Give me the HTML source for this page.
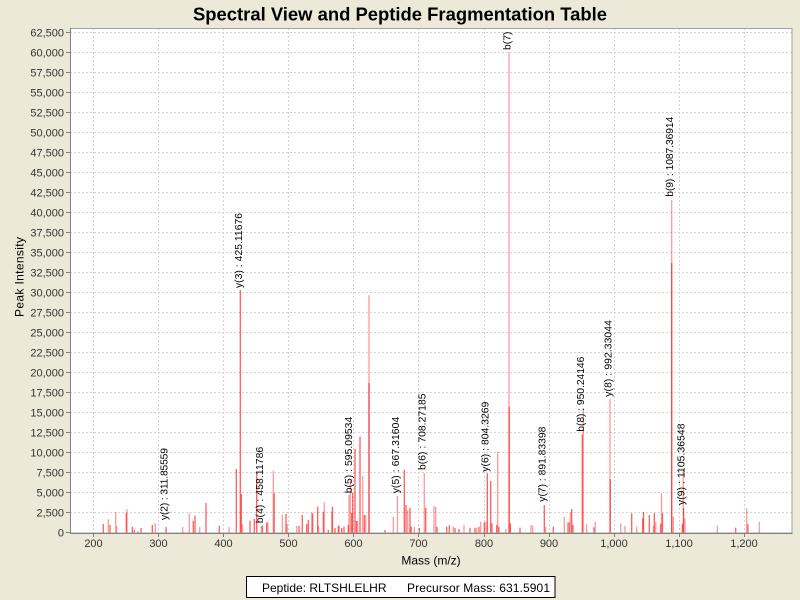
<!DOCTYPE html>
<html><head><meta charset="utf-8"><style>
html,body{margin:0;padding:0;background:#ECE9D8;}
svg{display:block;font-family:"Liberation Sans",Arial,sans-serif;}
.p{stroke:rgba(255,0,0,0.40);stroke-width:1.3;}
.r{stroke:rgba(255,30,30,0.72);stroke-width:1.3;}
.g{stroke:#d2d2d2;stroke-width:1;stroke-dasharray:2,2;}
.yt{font-size:11px;text-anchor:end;fill:#333;}
.xt{font-size:11px;text-anchor:middle;fill:#333;}
.lb{font-size:10.3px;fill:#000;}
</style></head><body>
<svg width="800" height="600" viewBox="0 0 800 600" xmlns="http://www.w3.org/2000/svg">
<rect x="0" y="0" width="800" height="600" fill="#ECE9D8"/>
<text x="400" y="20.5" font-size="18" font-weight="bold" text-anchor="middle" textLength="414" lengthAdjust="spacingAndGlyphs" fill="#000">Spectral View and Peptide Fragmentation Table</text>
<rect x="70" y="28" width="722" height="505" fill="#fff"/>
<defs><clipPath id="cp"><rect x="70" y="28" width="722" height="505"/></clipPath></defs>
<g>
<!-- horizontal grid -->
<line class="g" x1="70" x2="792" y1="32.5" y2="32.5"/>
<line class="g" x1="70" x2="792" y1="52.5" y2="52.5"/>
<line class="g" x1="70" x2="792" y1="72.5" y2="72.5"/>
<line class="g" x1="70" x2="792" y1="92.5" y2="92.5"/>
<line class="g" x1="70" x2="792" y1="112.5" y2="112.5"/>
<line class="g" x1="70" x2="792" y1="132.5" y2="132.5"/>
<line class="g" x1="70" x2="792" y1="152.5" y2="152.5"/>
<line class="g" x1="70" x2="792" y1="172.5" y2="172.5"/>
<line class="g" x1="70" x2="792" y1="192.5" y2="192.5"/>
<line class="g" x1="70" x2="792" y1="212.5" y2="212.5"/>
<line class="g" x1="70" x2="792" y1="232.5" y2="232.5"/>
<line class="g" x1="70" x2="792" y1="252.5" y2="252.5"/>
<line class="g" x1="70" x2="792" y1="272.5" y2="272.5"/>
<line class="g" x1="70" x2="792" y1="292.5" y2="292.5"/>
<line class="g" x1="70" x2="792" y1="312.5" y2="312.5"/>
<line class="g" x1="70" x2="792" y1="332.5" y2="332.5"/>
<line class="g" x1="70" x2="792" y1="352.5" y2="352.5"/>
<line class="g" x1="70" x2="792" y1="372.5" y2="372.5"/>
<line class="g" x1="70" x2="792" y1="392.5" y2="392.5"/>
<line class="g" x1="70" x2="792" y1="412.5" y2="412.5"/>
<line class="g" x1="70" x2="792" y1="432.5" y2="432.5"/>
<line class="g" x1="70" x2="792" y1="452.5" y2="452.5"/>
<line class="g" x1="70" x2="792" y1="472.5" y2="472.5"/>
<line class="g" x1="70" x2="792" y1="492.5" y2="492.5"/>
<line class="g" x1="70" x2="792" y1="512.5" y2="512.5"/>
<!-- vertical grid -->
<line class="g" x1="93.5" x2="93.5" y1="28" y2="533"/>
<line class="g" x1="158.5" x2="158.5" y1="28" y2="533"/>
<line class="g" x1="223.5" x2="223.5" y1="28" y2="533"/>
<line class="g" x1="288.5" x2="288.5" y1="28" y2="533"/>
<line class="g" x1="353.5" x2="353.5" y1="28" y2="533"/>
<line class="g" x1="418.5" x2="418.5" y1="28" y2="533"/>
<line class="g" x1="484.5" x2="484.5" y1="28" y2="533"/>
<line class="g" x1="549.5" x2="549.5" y1="28" y2="533"/>
<line class="g" x1="614.5" x2="614.5" y1="28" y2="533"/>
<line class="g" x1="679.5" x2="679.5" y1="28" y2="533"/>
<line class="g" x1="744.5" x2="744.5" y1="28" y2="533"/>
</g>
<g clip-path="url(#cp)">
<line class="r" x1="103.3" x2="103.3" y1="533" y2="524"/>
<line class="p" x1="108.3" x2="108.3" y1="533" y2="519.3"/>
<line class="r" x1="110" x2="110" y1="533" y2="525"/>
<line class="p" x1="115.7" x2="115.7" y1="533" y2="512"/>
<line class="p" x1="116.7" x2="116.7" y1="533" y2="526"/>
<line class="p" x1="127" x2="127" y1="533" y2="509"/>
<line class="r" x1="126.3" x2="126.3" y1="533" y2="513"/>
<line class="r" x1="132.3" x2="132.3" y1="533" y2="526.7"/>
<line class="r" x1="134.3" x2="134.3" y1="533" y2="530"/>
<line class="p" x1="137.7" x2="137.7" y1="533" y2="531"/>
<line class="r" x1="141" x2="141" y1="533" y2="528"/>
<line class="r" x1="152.3" x2="152.3" y1="533" y2="525"/>
<line class="p" x1="155.3" x2="155.3" y1="533" y2="523.3"/>
<line class="r" x1="166.1" x2="166.1" y1="533" y2="527"/>
<line class="p" x1="182.7" x2="182.7" y1="533" y2="527"/>
<line class="p" x1="189.3" x2="189.3" y1="533" y2="513.3"/>
<line class="r" x1="193.3" x2="193.3" y1="533" y2="520.7"/>
<line class="r" x1="195" x2="195" y1="533" y2="515.7"/>
<line class="p" x1="199.7" x2="199.7" y1="533" y2="527"/>
<line class="r" x1="206" x2="206" y1="533" y2="503"/>
<line class="r" x1="219.3" x2="219.3" y1="533" y2="525.7"/>
<line class="p" x1="229" x2="229" y1="533" y2="526.7"/>
<line class="r" x1="236.3" x2="236.3" y1="533" y2="469"/>
<line class="r" x1="240.3" x2="240.3" y1="533" y2="290"/>
<line class="r" x1="241.3" x2="241.3" y1="533" y2="494"/>
<line class="p" x1="242.5" x2="242.5" y1="533" y2="524.3"/>
<line class="r" x1="250" x2="250" y1="533" y2="520.7"/>
<line class="r" x1="254.3" x2="254.3" y1="533" y2="519"/>
<line class="r" x1="256.7" x2="256.7" y1="533" y2="473.3"/>
<line class="p" x1="261.3" x2="261.3" y1="533" y2="526"/>
<line class="r" x1="262.5" x2="262.5" y1="533" y2="525.7"/>
<line class="r" x1="266.7" x2="266.7" y1="533" y2="522.3"/>
<line class="p" x1="267.9" x2="267.9" y1="533" y2="522.3"/>
<line class="p" x1="273.3" x2="273.3" y1="533" y2="470.7"/>
<line class="r" x1="274.2" x2="274.2" y1="533" y2="493.3"/>
<line class="p" x1="282.3" x2="282.3" y1="533" y2="514.7"/>
<line class="r" x1="286" x2="286" y1="533" y2="514"/>
<line class="p" x1="287.3" x2="287.3" y1="533" y2="524"/>
<line class="p" x1="296.7" x2="296.7" y1="533" y2="526"/>
<line class="r" x1="299" x2="299" y1="533" y2="526"/>
<line class="r" x1="302.3" x2="302.3" y1="533" y2="515"/>
<line class="r" x1="306.7" x2="306.7" y1="533" y2="524"/>
<line class="r" x1="308.3" x2="308.3" y1="533" y2="520"/>
<line class="p" x1="311.7" x2="311.7" y1="533" y2="512.7"/>
<line class="r" x1="312.7" x2="312.7" y1="533" y2="513.3"/>
<line class="r" x1="317.7" x2="317.7" y1="533" y2="506.7"/>
<line class="p" x1="318.5" x2="318.5" y1="533" y2="526"/>
<line class="r" x1="323.3" x2="323.3" y1="533" y2="511.7"/>
<line class="p" x1="324.3" x2="324.3" y1="533" y2="502.3"/>
<line class="r" x1="328.3" x2="328.3" y1="533" y2="530"/>
<line class="p" x1="331.7" x2="331.7" y1="533" y2="511.7"/>
<line class="r" x1="332.5" x2="332.5" y1="533" y2="506.7"/>
<line class="r" x1="335" x2="335" y1="533" y2="528"/>
<line class="r" x1="338.3" x2="338.3" y1="533" y2="526"/>
<line class="p" x1="339.3" x2="339.3" y1="533" y2="525"/>
<line class="r" x1="341.7" x2="341.7" y1="533" y2="528"/>
<line class="r" x1="344" x2="344" y1="533" y2="526.7"/>
<line class="r" x1="348.3" x2="348.3" y1="533" y2="525"/>
<line class="p" x1="349" x2="349" y1="533" y2="495"/>
<line class="p" x1="350.3" x2="350.3" y1="533" y2="480"/>
<line class="r" x1="351.7" x2="351.7" y1="533" y2="513"/>
<line class="r" x1="352.7" x2="352.7" y1="533" y2="492.7"/>
<line class="r" x1="355" x2="355" y1="533" y2="449"/>
<line class="r" x1="356.5" x2="356.5" y1="533" y2="521"/>
<line class="p" x1="357.7" x2="357.7" y1="533" y2="521"/>
<line class="r" x1="360" x2="360" y1="533" y2="436.7"/>
<line class="p" x1="362.7" x2="362.7" y1="533" y2="475.7"/>
<line class="r" x1="364.3" x2="364.3" y1="533" y2="515"/>
<line class="p" x1="365.7" x2="365.7" y1="533" y2="515"/>
<line class="p" x1="369" x2="369" y1="533" y2="295"/>
<line class="r" x1="369" x2="369" y1="533" y2="383"/>
<line class="r" x1="385" x2="385" y1="533" y2="530"/>
<line class="p" x1="393.3" x2="393.3" y1="533" y2="516.7"/>
<line class="p" x1="397.5" x2="397.5" y1="533" y2="496"/>
<line class="r" x1="404.3" x2="404.3" y1="533" y2="470"/>
<line class="r" x1="406" x2="406" y1="533" y2="505"/>
<line class="p" x1="407.7" x2="407.7" y1="533" y2="510"/>
<line class="r" x1="410" x2="410" y1="533" y2="507.7"/>
<line class="r" x1="411.2" x2="411.2" y1="533" y2="526.7"/>
<line class="p" x1="414.3" x2="414.3" y1="533" y2="526.7"/>
<line class="r" x1="419.3" x2="419.3" y1="533" y2="528"/>
<line class="p" x1="424.3" x2="424.3" y1="533" y2="473.3"/>
<line class="r" x1="425.7" x2="425.7" y1="533" y2="507.7"/>
<line class="p" x1="434" x2="434" y1="533" y2="506"/>
<line class="p" x1="435.7" x2="435.7" y1="533" y2="506.7"/>
<line class="r" x1="437" x2="437" y1="533" y2="526.7"/>
<line class="r" x1="446.7" x2="446.7" y1="533" y2="526.7"/>
<line class="r" x1="449.3" x2="449.3" y1="533" y2="525.3"/>
<line class="p" x1="453.3" x2="453.3" y1="533" y2="526"/>
<line class="r" x1="455" x2="455" y1="533" y2="528"/>
<line class="r" x1="459" x2="459" y1="533" y2="529"/>
<line class="p" x1="464" x2="464" y1="533" y2="525"/>
<line class="r" x1="470" x2="470" y1="533" y2="527.7"/>
<line class="r" x1="475" x2="475" y1="533" y2="527.7"/>
<line class="p" x1="476.7" x2="476.7" y1="533" y2="527.7"/>
<line class="r" x1="479" x2="479" y1="533" y2="526.7"/>
<line class="p" x1="480.7" x2="480.7" y1="533" y2="521.7"/>
<line class="r" x1="484.3" x2="484.3" y1="533" y2="522.3"/>
<line class="p" x1="486" x2="486" y1="533" y2="521.7"/>
<line class="r" x1="487.3" x2="487.3" y1="533" y2="473.3"/>
<line class="r" x1="490.7" x2="490.7" y1="533" y2="481"/>
<line class="r" x1="491.9" x2="491.9" y1="533" y2="523.3"/>
<line class="r" x1="496.7" x2="496.7" y1="533" y2="525"/>
<line class="p" x1="497.7" x2="497.7" y1="533" y2="451.7"/>
<line class="r" x1="498.9" x2="498.9" y1="533" y2="526.7"/>
<line class="p" x1="505.7" x2="505.7" y1="533" y2="529"/>
<line class="p" x1="509" x2="509" y1="533" y2="52.3"/>
<line class="r" x1="509.2" x2="509.2" y1="533" y2="406.7"/>
<line class="r" x1="510.4" x2="510.4" y1="533" y2="523.3"/>
<line class="r" x1="520" x2="520" y1="533" y2="527.7"/>
<line class="p" x1="531" x2="531" y1="533" y2="525"/>
<line class="p" x1="532.7" x2="532.7" y1="533" y2="525.7"/>
<line class="r" x1="544.3" x2="544.3" y1="533" y2="505"/>
<line class="p" x1="545.7" x2="545.7" y1="533" y2="526.7"/>
<line class="r" x1="553.3" x2="553.3" y1="533" y2="526.7"/>
<line class="p" x1="564.3" x2="564.3" y1="533" y2="516.7"/>
<line class="p" x1="567.7" x2="567.7" y1="533" y2="522.3"/>
<line class="r" x1="569.1" x2="569.1" y1="533" y2="522.3"/>
<line class="p" x1="570.3" x2="570.3" y1="533" y2="512.3"/>
<line class="r" x1="571.7" x2="571.7" y1="533" y2="509"/>
<line class="r" x1="572.9" x2="572.9" y1="533" y2="525"/>
<line class="r" x1="582.3" x2="582.3" y1="533" y2="434.3"/>
<line class="p" x1="583.3" x2="583.3" y1="533" y2="408.3"/>
<line class="p" x1="586.7" x2="586.7" y1="533" y2="524"/>
<line class="r" x1="594" x2="594" y1="533" y2="527.3"/>
<line class="p" x1="595.2" x2="595.2" y1="533" y2="521.7"/>
<line class="p" x1="610" x2="610" y1="533" y2="399"/>
<line class="r" x1="610.2" x2="610.2" y1="533" y2="479.3"/>
<line class="p" x1="620.7" x2="620.7" y1="533" y2="523.3"/>
<line class="p" x1="625" x2="625" y1="533" y2="525.7"/>
<line class="r" x1="631.7" x2="631.7" y1="533" y2="513.3"/>
<line class="p" x1="636.7" x2="636.7" y1="533" y2="526.7"/>
<line class="r" x1="642.7" x2="642.7" y1="533" y2="518.3"/>
<line class="r" x1="643.5" x2="643.5" y1="533" y2="512"/>
<line class="r" x1="649.3" x2="649.3" y1="533" y2="515"/>
<line class="p" x1="653.3" x2="653.3" y1="533" y2="525.7"/>
<line class="r" x1="654.3" x2="654.3" y1="533" y2="513.3"/>
<line class="p" x1="655.7" x2="655.7" y1="533" y2="521.7"/>
<line class="r" x1="660.7" x2="660.7" y1="533" y2="524"/>
<line class="p" x1="661.5" x2="661.5" y1="533" y2="493.3"/>
<line class="r" x1="662.5" x2="662.5" y1="533" y2="513.3"/>
<line class="p" x1="671.7" x2="671.7" y1="533" y2="200"/>
<line class="r" x1="671.7" x2="671.7" y1="533" y2="263"/>
<line class="p" x1="673.3" x2="673.3" y1="533" y2="516.7"/>
<line class="r" x1="682.3" x2="682.3" y1="533" y2="524"/>
<line class="p" x1="683.3" x2="683.3" y1="533" y2="470"/>
<line class="r" x1="683.6" x2="683.6" y1="533" y2="508"/>
<line class="p" x1="685" x2="685" y1="533" y2="518.3"/>
<line class="p" x1="717.3" x2="717.3" y1="533" y2="525.7"/>
<line class="r" x1="735.7" x2="735.7" y1="533" y2="527.7"/>
<line class="p" x1="746.7" x2="746.7" y1="533" y2="508.3"/>
<line class="r" x1="747.9" x2="747.9" y1="533" y2="524.3"/>
<line class="p" x1="759.3" x2="759.3" y1="533" y2="521.7"/>
<!-- labels -->
<text class="lb" transform="translate(167.6,520) rotate(-90)" textLength="72">y(2) : 311.85559</text>
<text class="lb" transform="translate(241.8,288) rotate(-90)" textLength="75">y(3) : 425.11676</text>
<text class="lb" transform="translate(262.8,523.3) rotate(-90)" textLength="76.5">b(4) : 458.11786</text>
<text class="lb" transform="translate(352,493.3) rotate(-90)" textLength="76.5">b(5) : 595.09534</text>
<text class="lb" transform="translate(399,493.3) rotate(-90)" textLength="76.5">y(5) : 667.31604</text>
<text class="lb" transform="translate(425.7,470) rotate(-90)" textLength="76.5">b(6) : 708.27185</text>
<text class="lb" transform="translate(488.5,471.7) rotate(-90)" textLength="70">y(6) : 804.3269</text>
<text class="lb" transform="translate(510.5,50) rotate(-90)" textLength="76.5">b(7) : 836.44931</text>
<text class="lb" transform="translate(545.5,501.7) rotate(-90)" textLength="75">y(7) : 891.83398</text>
<text class="lb" transform="translate(584,431.7) rotate(-90)" textLength="75">b(8) : 950.24146</text>
<text class="lb" transform="translate(611.5,396.7) rotate(-90)" textLength="76.5">y(8) : 992.33044</text>
<text class="lb" transform="translate(673.2,196.7) rotate(-90)" textLength="80">b(9) : 1087.36914</text>
<text class="lb" transform="translate(684.5,505) rotate(-90)" textLength="81.5">y(9) : 1105.36548</text>
</g>
<!-- plot border & axes -->
<rect x="70.5" y="28.5" width="721.5" height="504.5" fill="none" stroke="#a0a0a0" stroke-width="1"/>
<line x1="70.5" x2="70.5" y1="28" y2="533.5" stroke="#808080" stroke-width="1"/>
<line x1="70" x2="792.5" y1="533.5" y2="533.5" stroke="#808080" stroke-width="1"/>
<!-- y ticks -->
<g stroke="#808080" stroke-width="1">
<line x1="66" x2="70" y1="32.5" y2="32.5"/><line x1="66" x2="70" y1="52.5" y2="52.5"/><line x1="66" x2="70" y1="72.5" y2="72.5"/><line x1="66" x2="70" y1="92.5" y2="92.5"/><line x1="66" x2="70" y1="112.5" y2="112.5"/><line x1="66" x2="70" y1="132.5" y2="132.5"/><line x1="66" x2="70" y1="152.5" y2="152.5"/><line x1="66" x2="70" y1="172.5" y2="172.5"/><line x1="66" x2="70" y1="192.5" y2="192.5"/><line x1="66" x2="70" y1="212.5" y2="212.5"/><line x1="66" x2="70" y1="232.5" y2="232.5"/><line x1="66" x2="70" y1="252.5" y2="252.5"/><line x1="66" x2="70" y1="272.5" y2="272.5"/><line x1="66" x2="70" y1="292.5" y2="292.5"/><line x1="66" x2="70" y1="312.5" y2="312.5"/><line x1="66" x2="70" y1="332.5" y2="332.5"/><line x1="66" x2="70" y1="352.5" y2="352.5"/><line x1="66" x2="70" y1="372.5" y2="372.5"/><line x1="66" x2="70" y1="392.5" y2="392.5"/><line x1="66" x2="70" y1="412.5" y2="412.5"/><line x1="66" x2="70" y1="432.5" y2="432.5"/><line x1="66" x2="70" y1="452.5" y2="452.5"/><line x1="66" x2="70" y1="472.5" y2="472.5"/><line x1="66" x2="70" y1="492.5" y2="492.5"/><line x1="66" x2="70" y1="512.5" y2="512.5"/><line x1="66" x2="70" y1="532.5" y2="532.5"/>
<line x1="93.5" x2="93.5" y1="533" y2="537"/><line x1="158.5" x2="158.5" y1="533" y2="537"/><line x1="223.5" x2="223.5" y1="533" y2="537"/><line x1="288.5" x2="288.5" y1="533" y2="537"/><line x1="353.5" x2="353.5" y1="533" y2="537"/><line x1="418.5" x2="418.5" y1="533" y2="537"/><line x1="484.5" x2="484.5" y1="533" y2="537"/><line x1="549.5" x2="549.5" y1="533" y2="537"/><line x1="614.5" x2="614.5" y1="533" y2="537"/><line x1="679.5" x2="679.5" y1="533" y2="537"/><line x1="744.5" x2="744.5" y1="533" y2="537"/>
</g>
<g class="yt">
<text x="64" y="36.5">62,500</text><text x="64" y="56.5">60,000</text><text x="64" y="76.5">57,500</text><text x="64" y="96.5">55,000</text><text x="64" y="116.5">52,500</text><text x="64" y="136.5">50,000</text><text x="64" y="156.5">47,500</text><text x="64" y="176.5">45,000</text><text x="64" y="196.5">42,500</text><text x="64" y="216.5">40,000</text><text x="64" y="236.5">37,500</text><text x="64" y="256.5">35,000</text><text x="64" y="276.5">32,500</text><text x="64" y="296.5">30,000</text><text x="64" y="316.5">27,500</text><text x="64" y="336.5">25,000</text><text x="64" y="356.5">22,500</text><text x="64" y="376.5">20,000</text><text x="64" y="396.5">17,500</text><text x="64" y="416.5">15,000</text><text x="64" y="436.5">12,500</text><text x="64" y="456.5">10,000</text><text x="64" y="476.5">7,500</text><text x="64" y="496.5">5,000</text><text x="64" y="516.5">2,500</text><text x="64" y="536.5">0</text>
</g>
<g class="xt">
<text x="93.5" y="547">200</text><text x="158.5" y="547">300</text><text x="223.5" y="547">400</text><text x="288.5" y="547">500</text><text x="353.5" y="547">600</text><text x="418.5" y="547">700</text><text x="484" y="547">800</text><text x="549" y="547">900</text><text x="614" y="547">1,000</text><text x="679" y="547">1,100</text><text x="744" y="547">1,200</text>
</g>
<text x="431" y="564.5" font-size="12" text-anchor="middle" fill="#000">Mass (m/z)</text>
<text transform="translate(23.5,277) rotate(-90)" font-size="12" text-anchor="middle" fill="#000" textLength="80">Peak Intensity</text>
<rect x="246.5" y="576.5" width="308.5" height="21" fill="#fff" stroke="#000" stroke-width="1"/>
<text x="262" y="592" font-size="12" fill="#000">Peptide: RLTSHLELHR</text>
<text x="407" y="592" font-size="12" fill="#000" textLength="143">Precursor Mass: 631.5901</text>
</svg>
</body></html>
